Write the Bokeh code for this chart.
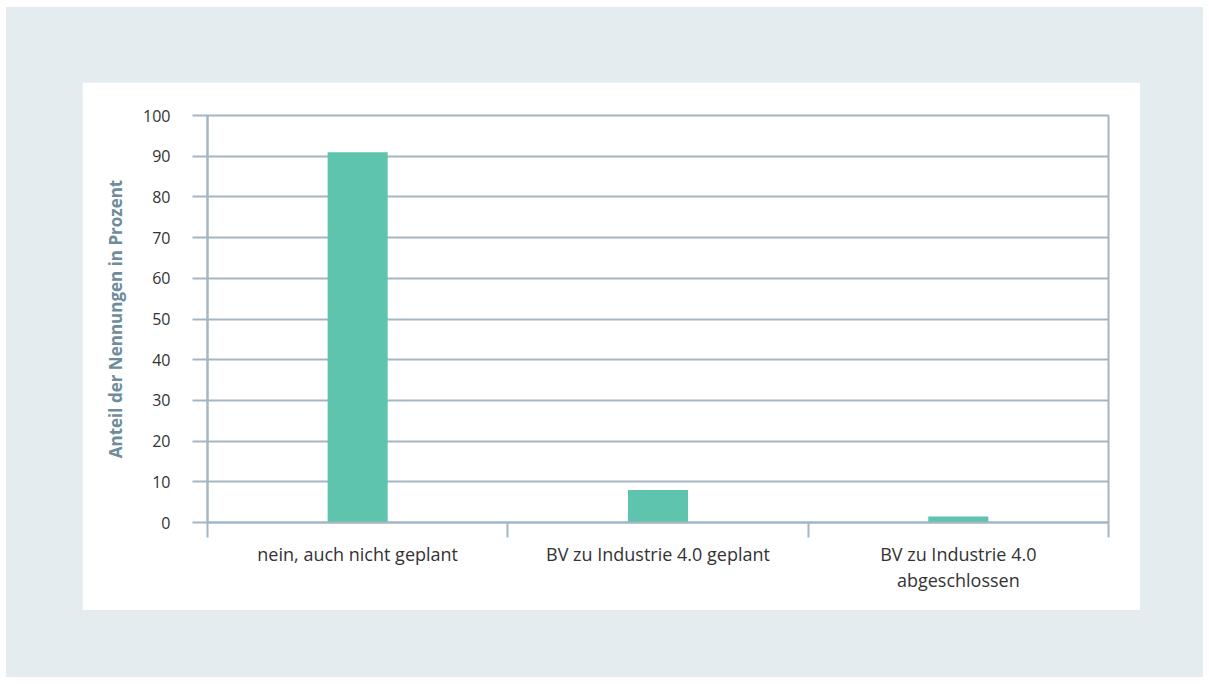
from bokeh.plotting import figure
from bokeh.models import FixedTicker, Range1d, Column
from bokeh.embed import file_html
from bokeh.resources import INLINE

categories = ["nein, auch nicht geplant", "BV zu Industrie 4.0 geplant", "BV zu Industrie 4.0\nabgeschlossen"]
values = [91, 8, 1.5]
y_ticks = [0, 10, 20, 30, 40, 50, 60, 70, 80, 90, 100]

GRID = "#a3b6c4"
BAR = "#5ec4ad"
PANEL = "#e4ecef"
FONT = "Open Sans"

xpos = [i + 0.5 for i in range(len(categories))]

p = figure(width=1058, height=528, output_backend="svg", toolbar_location=None,
           x_range=Range1d(0, len(categories)), y_range=Range1d(0, 100),
           min_border_left=125, min_border_right=32, min_border_top=33, min_border_bottom=88)
p.margin = (75, 63, 67, 76)
p.background_fill_color = "white"
p.border_fill_color = "white"
p.outline_line_color = GRID
p.outline_line_width = 2

p.vbar(x=xpos, top=values, width=0.2, color=BAR, line_color=None)

# y axis
p.yaxis.ticker = FixedTicker(ticks=y_ticks)
p.yaxis.axis_line_color = GRID
p.yaxis.axis_line_width = 2
p.yaxis.major_tick_line_color = GRID
p.yaxis.major_tick_line_width = 2
p.yaxis.major_tick_out = 15
p.yaxis.major_tick_in = 0
p.yaxis.minor_tick_line_color = None
p.yaxis.major_label_standoff = 22
p.yaxis.major_label_text_font = FONT
p.yaxis.major_label_text_font_size = "16px"
p.yaxis.major_label_text_color = "#333333"
p.yaxis.axis_label = "Anteil der Nennungen in Prozent"
p.yaxis.axis_label_text_font = FONT
p.yaxis.axis_label_text_font_style = "bold"
p.yaxis.axis_label_text_font_size = "17px"
p.yaxis.axis_label_text_color = "#6e8c9c"
p.yaxis.axis_label_standoff = 13

# x axis
p.xaxis.ticker = FixedTicker(ticks=xpos, minor_ticks=list(range(len(categories) + 1)))
p.xaxis.major_label_overrides = {x: c for x, c in zip(xpos, categories)}
p.xaxis.axis_line_color = GRID
p.xaxis.axis_line_width = 2
p.xaxis.major_tick_line_color = None
p.xaxis.major_tick_out = 0
p.xaxis.major_tick_in = 0
p.xaxis.minor_tick_line_color = GRID
p.xaxis.minor_tick_line_width = 2
p.xaxis.minor_tick_out = 15
p.xaxis.minor_tick_in = 0
p.xaxis.major_label_standoff = 4
p.xaxis.major_label_text_font = FONT
p.xaxis.major_label_text_font_size = "18px"
p.xaxis.major_label_text_line_height = 1.12
p.xaxis.major_label_text_color = "#333333"

p.xgrid.grid_line_color = None
p.ygrid.grid_line_color = GRID
p.ygrid.grid_line_width = 2

layout = Column(p, width=1197, height=670, margin=(7, 6, 7, 6),
                styles={"background-color": PANEL})

open("out.html", "w").write(file_html(layout, INLINE))
